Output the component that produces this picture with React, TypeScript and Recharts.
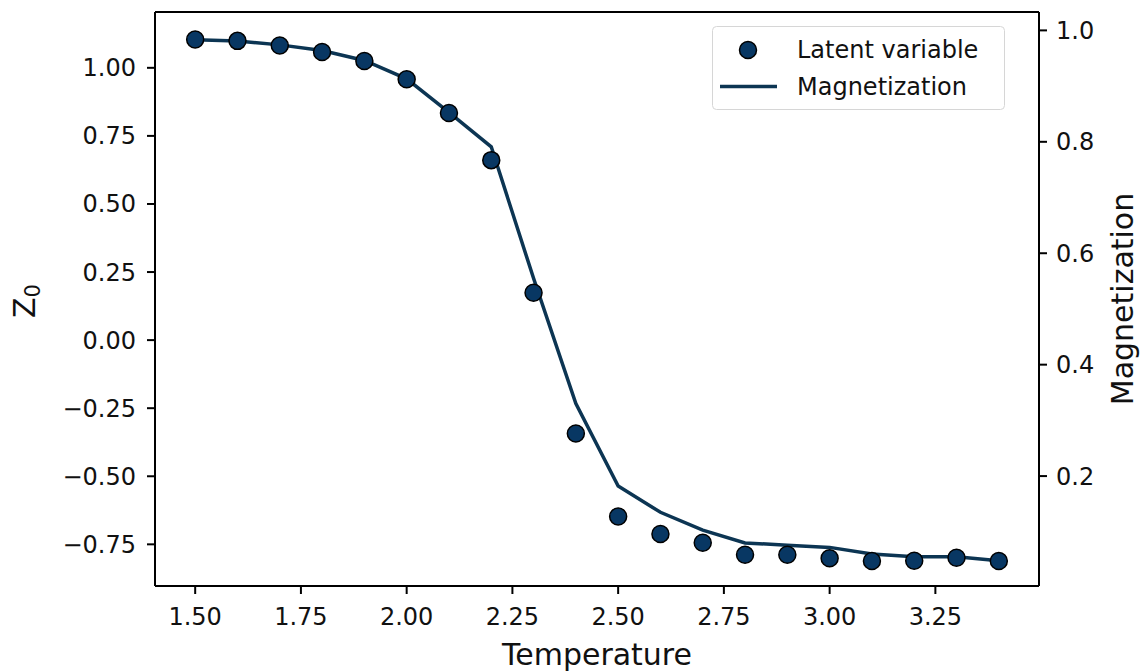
import React from "react";
import {
  ComposedChart,
  Scatter,
  Line,
  XAxis,
  YAxis,
  Legend,
  ReferenceLine,
} from "recharts";

// temperatures sampled in the simulation
const TEMPS = [1.5, 1.6, 1.7, 1.8, 1.9, 2.0, 2.1, 2.2, 2.3, 2.4, 2.5, 2.6, 2.7, 2.8, 2.9, 3.0, 3.1, 3.2, 3.3, 3.4];

// latent variable z0 (left axis)
const LATENT = [
  1.104, 1.099, 1.082, 1.058, 1.025, 0.958, 0.834, 0.661, 0.174, -0.343,
  -0.648, -0.712, -0.744, -0.788, -0.788, -0.801, -0.811, -0.81, -0.799, -0.811,
];

// magnetization (right axis)
const MAGNET = [
  0.983, 0.981, 0.974, 0.964, 0.946, 0.913, 0.853, 0.791, 0.555, 0.33,
  0.182, 0.135, 0.103, 0.08, 0.076, 0.072, 0.06, 0.055, 0.055, 0.048,
];

const X_TICKS = [1.5, 1.75, 2.0, 2.25, 2.5, 2.75, 3.0, 3.25];
const Z_TICKS = [-0.75, -0.5, -0.25, 0, 0.25, 0.5, 0.75, 1.0];
const M_TICKS = [0.2, 0.4, 0.6, 0.8, 1.0];

const X_DOMAIN: [number, number] = [1.405, 3.495];
const Z_DOMAIN: [number, number] = [-0.903, 1.205];
const M_DOMAIN: [number, number] = [0.0027, 1.033];

const FONT = "DejaVu Sans";
const DOT_FILL = "#083763";
const LINE_COLOR = "#0c3553";
const INK = "#111";
const SPINE = { stroke: "#000", strokeWidth: 2 };

const fmtMinus = (v: number, digits: number) => {
  const s = Math.abs(v).toFixed(digits);
  return v < 0 ? `\u2212${s}` : s;
};

const data = TEMPS.map((t, i) => ({ t, z: LATENT[i], m: MAGNET[i] }));

const tickStyle = { fill: INK, fontSize: 24, fontFamily: FONT };

function Dot(props: any) {
  const { cx, cy } = props;
  if (cx == null || cy == null) return null;
  return <circle cx={cx} cy={cy} r={8.5} fill={DOT_FILL} stroke="#000" strokeWidth={1.5} />;
}

function LegendBox() {
  return (
    <svg width={293} height={84} style={{ display: "block" }}>
      <rect x={0.5} y={0.5} width={292} height={83} rx={4} fill="#fff" fillOpacity={0.8} stroke="#d6d6d6" />
      <circle cx={36} cy={24} r={8.5} fill={DOT_FILL} stroke="#000" strokeWidth={1.5} />
      <line x1={8} x2={65} y1={60.5} y2={60.5} stroke={LINE_COLOR} strokeWidth={3.5} />
      <text x={85} y={24} dominantBaseline="central" fontSize={24} fontFamily={FONT} fill={INK}>
        Latent variable
      </text>
      <text x={85} y={61} dominantBaseline="central" fontSize={24} fontFamily={FONT} fill={INK}>
        Magnetization
      </text>
    </svg>
  );
}

export default function App() {
  return (
    <div style={{ position: "absolute", left: 0, top: 0, background: "#fff", fontFamily: FONT }}>
      <ComposedChart width={1143} height={671} data={data} margin={{ top: 12, right: 0, bottom: 0, left: 0 }}>
        <XAxis
          dataKey="t"
          type="number"
          domain={X_DOMAIN}
          allowDataOverflow
          ticks={X_TICKS}
          tickFormatter={(v: number) => v.toFixed(2)}
          height={85}
          tickSize={8}
          tickMargin={14}
          tick={tickStyle}
          axisLine={SPINE}
          tickLine={SPINE}
          label={(p: any) => {
            const vb = p.viewBox;
            return (
              <text x={vb.x + vb.width / 2} y={vb.y + 79} textAnchor="middle" fontSize={30} fontFamily={FONT} fill={INK}>
                Temperature
              </text>
            );
          }}
        />
        <YAxis
          yAxisId="left"
          type="number"
          domain={Z_DOMAIN}
          allowDataOverflow
          ticks={Z_TICKS}
          tickFormatter={(v: number) => fmtMinus(v, 2)}
          width={155}
          tickSize={8}
          tickMargin={11}
          tick={tickStyle}
          axisLine={SPINE}
          tickLine={SPINE}
          label={(p: any) => {
            const vb = p.viewBox;
            const cx = vb.x + 35;
            const cy = vb.y + vb.height / 2 + 2;
            return (
              <text x={cx} y={cy} transform={`rotate(-90 ${cx} ${cy})`} textAnchor="middle" fontSize={30} fontFamily={FONT} fill={INK}>
                Z
                <tspan dy={5} fontSize={21}>0</tspan>
              </text>
            );
          }}
        />
        <YAxis
          yAxisId="right"
          orientation="right"
          type="number"
          domain={M_DOMAIN}
          allowDataOverflow
          ticks={M_TICKS}
          tickFormatter={(v: number) => v.toFixed(1)}
          width={104}
          tickSize={8}
          tickMargin={9}
          tick={tickStyle}
          axisLine={SPINE}
          tickLine={SPINE}
          label={(p: any) => {
            const vb = p.viewBox;
            const cx = vb.x + 94;
            const cy = vb.y + vb.height / 2;
            return (
              <text x={cx} y={cy} transform={`rotate(-90 ${cx} ${cy})`} textAnchor="middle" fontSize={30} fontFamily={FONT} fill={INK}>
                Magnetization
              </text>
            );
          }}
        />
        <ReferenceLine yAxisId="left" y={Z_DOMAIN[1]} stroke="#000" strokeWidth={2} />
        <Scatter yAxisId="left" dataKey="z" name="Latent variable" shape={<Dot />} isAnimationActive={false} />
        <Line
          yAxisId="right"
          dataKey="m"
          name="Magnetization"
          type="linear"
          stroke={LINE_COLOR}
          strokeWidth={3.5}
          dot={false}
          activeDot={false}
          isAnimationActive={false}
        />
        <Legend
          layout="vertical"
          align="center"
          verticalAlign="middle"
          wrapperStyle={{ left: 712, top: 26, width: 293, height: 84 }}
          content={() => <LegendBox />}
        />
      </ComposedChart>
    </div>
  );
}
